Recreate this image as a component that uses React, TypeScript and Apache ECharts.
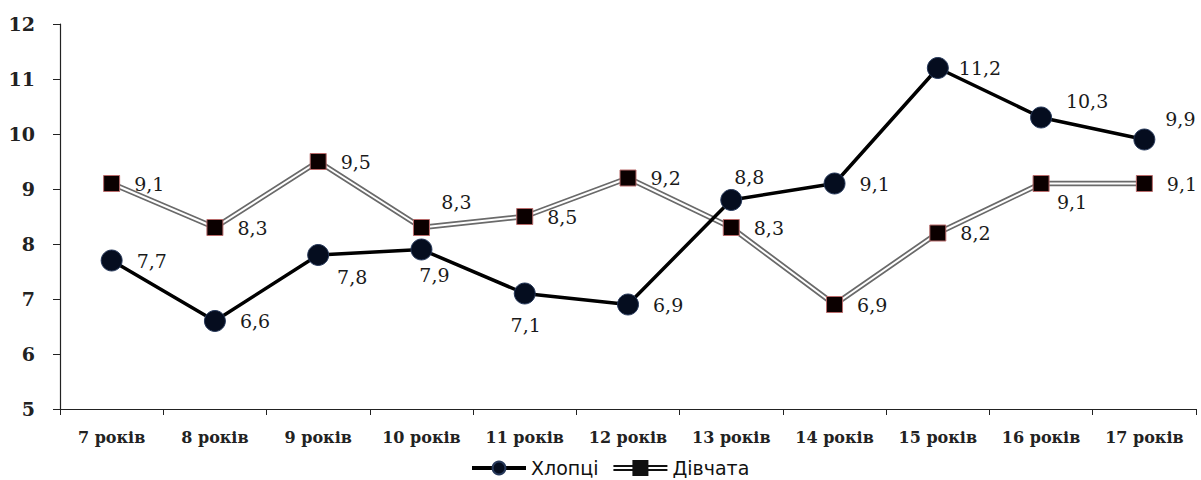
import React, { useEffect, useRef } from "react";
import * as echarts from "echarts";

const categories = ["7 років", "8 років", "9 років", "10 років", "11 років", "12 років", "13 років", "14 років", "15 років", "16 років", "17 років"];
const boys = [7.7, 6.6, 7.8, 7.9, 7.1, 6.9, 8.8, 9.1, 11.2, 10.3, 9.9];
const girls = [9.1, 8.3, 9.5, 8.3, 8.5, 9.2, 8.3, 6.9, 8.2, 9.1, 9.1];
const yTicks = [5, 6, 7, 8, 9, 10, 11, 12];

// label placement styling (not data)
const boysLabelPlace: [string, number[]][] = [
  ["right", [6, 0]], ["right", [6, 0]], ["bottom", [34, -7]], ["bottom", [13, -3]], ["bottom", [1, 3]],
  ["right", [6, 0]], ["top", [18, 5]], ["right", [6, 0]], ["right", [2, 0]], ["top", [46, 12]], ["top", [36, 8]],
];
const girlsLabelPlace: [string, number[]][] = [
  ["right", [9, 0]], ["right", [9, 0]], ["right", [9, 0]], ["top", [35, -3]], ["right", [9, 0]],
  ["right", [9, 0]], ["right", [9, 0]], ["right", [9, 0]], ["right", [9, 0]], ["bottom", [31, -5]], ["right", [9, 0]],
];

const fmt = (v: number) => String(v).replace(".", ",");
const labelFont = { fontFamily: "DejaVu Serif", fontSize: 19, color: "#1a1a1a" };

export default function App() {
  const ref = useRef<HTMLDivElement>(null);
  useEffect(() => {
    document.body.style.margin = "0";
    const chart = echarts.init(ref.current!, null, { renderer: "svg" });
    chart.setOption({
      animation: false,
      backgroundColor: "#ffffff",
      grid: { left: 60, right: 5, top: 24, bottom: 71 },
      legend: {
        left: 470,
        top: 458,
        padding: 0,
        itemWidth: 54,
        itemHeight: 16,
        itemGap: 15,
        textStyle: { fontFamily: "DejaVu Sans", fontSize: 19, lineHeight: 20, color: "#111" },
        data: [
          { name: "Хлопці", lineStyle: { width: 4 } },
          {
            name: "Дівчата",
            icon: "path://M0,5 H54 V7 H0 Z M0,9 H54 V11 H0 Z M19,0 H35 V16 H19 Z",
            itemStyle: { color: "#111", borderWidth: 0 },
          },
        ],
      },
      xAxis: {
        type: "category",
        data: categories,
        boundaryGap: true,
        axisLine: { lineStyle: { color: "#222", width: 1.2 } },
        axisTick: { show: true, interval: 0, alignWithLabel: false, length: 6, lineStyle: { color: "#222" } },
        axisLabel: { interval: 0, fontFamily: "DejaVu Serif", fontWeight: "bold", fontSize: 16, color: "#222", margin: 20 },
      },
      yAxis: {
        type: "value",
        min: yTicks[0],
        max: yTicks[yTicks.length - 1],
        interval: 1,
        splitLine: { show: false },
        axisLine: { show: true, lineStyle: { color: "#222", width: 1.2 } },
        axisTick: { show: true, length: 7, lineStyle: { color: "#222" } },
        axisLabel: { fontFamily: "DejaVu Serif", fontWeight: "bold", fontSize: 19, color: "#222", margin: 25 },
      },
      series: [
        {
          name: "_girlsOuter",
          type: "line",
          data: girls,
          symbol: "none",
          z: 2,
          silent: true,
          lineStyle: { color: "#6a6a6a", width: 5.5 },
          itemStyle: { color: "#6a6a6a" },
        },
        {
          name: "_girlsInner",
          type: "line",
          data: girls,
          symbol: "none",
          z: 3,
          silent: true,
          lineStyle: { color: "#ffffff", width: 2 },
          itemStyle: { color: "#ffffff" },
        },
        {
          name: "Дівчата",
          type: "line",
          z: 4,
          data: girls.map((v, i) => ({
            value: v,
            label: { position: girlsLabelPlace[i][0], offset: girlsLabelPlace[i][1] },
          })),
          symbol: "rect",
          symbolSize: 16,
          lineStyle: { width: 0, opacity: 0 },
          itemStyle: { color: "#0b0000", borderColor: "#b86a6a", borderWidth: 1 },
          label: { show: true, formatter: (p: any) => fmt(p.value), ...labelFont },
        },
        {
          name: "Хлопці",
          type: "line",
          z: 5,
          data: boys.map((v, i) => ({
            value: v,
            label: { position: boysLabelPlace[i][0], offset: boysLabelPlace[i][1] },
          })),
          symbol: "circle",
          symbolSize: 21,
          lineStyle: { color: "#000000", width: 3.5 },
          itemStyle: { color: "#050d1f", borderColor: "#26385a", borderWidth: 1 },
          label: { show: true, formatter: (p: any) => fmt(p.value), distance: 8, ...labelFont },
        },
      ],
    });
    return () => chart.dispose();
  }, []);
  return <div ref={ref} style={{ width: 1201, height: 480 }} />;
}
